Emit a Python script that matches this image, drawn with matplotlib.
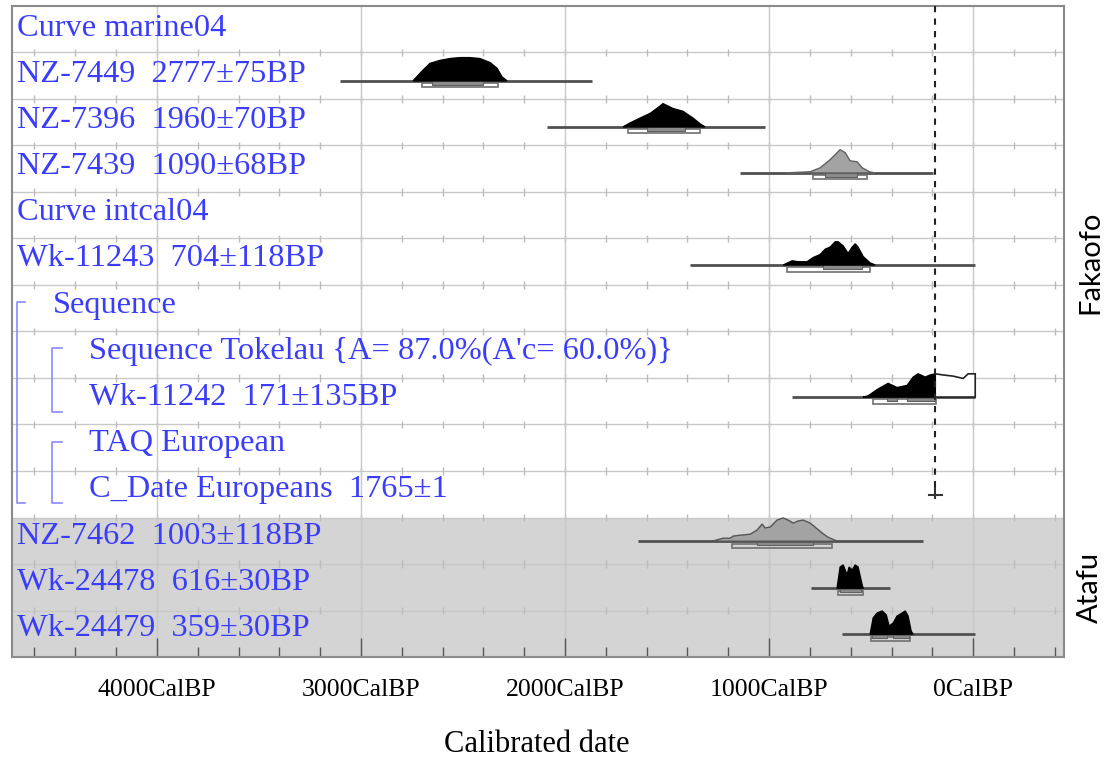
import numpy as np
import matplotlib.pyplot as plt
from matplotlib.patches import Rectangle

plt.rcParams['font.family'] = ['Liberation Serif', 'DejaVu Serif']

# row labels, top to bottom, and their indent level
row_labels = ['Curve marine04', 'NZ-7449  2777±75BP', 'NZ-7396  1960±70BP',
              'NZ-7439  1090±68BP', 'Curve intcal04', 'Wk-11243  704±118BP',
              'Sequence', "Sequence Tokelau {A= 87.0%(A'c= 60.0%)}",
              'Wk-11242  171±135BP', 'TAQ European', 'C_Date Europeans  1765±1',
              'NZ-7462  1003±118BP', 'Wk-24478  616±30BP', 'Wk-24479  359±30BP']
row_indent = [0, 0, 0, 0, 0, 0, 1, 2, 2, 2, 2, 0, 0, 0]

x_ticks = [4000, 3000, 2000, 1000, 0]
x_ticklabels = ['4000CalBP', '3000CalBP', '2000CalBP', '1000CalBP', '0CalBP']

# distributions (cal BP, relative probability), plotted range, 95% / 68% ranges
nz7449_bp = [2745, 2696, 2662, 2613, 2564, 2515, 2466, 2417, 2368, 2333, 2309, 2284]
nz7449_p = [0, .46, .75, .88, .96, 1, 1, .96, .79, .54, .17, 0]
nz7449_line = [3103, 1868]
nz7449_r95 = [(2701, 2328)]
nz7449_r68 = [(2652, 2402)]

nz7396_bp = [1716, 1681, 1632, 1583, 1544, 1520, 1471, 1422, 1373, 1338, 1314]
nz7396_p = [0, .17, .38, .58, .83, 1, .79, .67, .38, .13, 0]
nz7396_line = [2088, 1020]
nz7396_r95 = [(1691, 1338)]
nz7396_r68 = [(1598, 1412)]

nz7439_bp = [922, 799, 750, 701, 652, 627, 603, 569, 544, 505, 480]
nz7439_p = [0, .05, .22, .57, 1, .87, .52, .48, .22, .04, 0]
nz7439_line = [1142, 196]
nz7439_r95 = [(784, 520)]
nz7439_r68 = [(725, 569)]

wk11243_bp = [931, 887, 858, 814, 784, 750, 725, 701, 676, 662, 637, 613, 593, 578, 564, 539, 505, 480]
wk11243_p = [0, .18, .14, .14, .32, .45, .68, .77, 1, 1, .82, .5, .77, .91, .77, .36, .09, 0]
wk11243_line = [1387, -10]
wk11243_r95 = [(912, 505)]
wk11243_r68 = [(735, 544)]

wk11242_bp = [540, 515, 471, 417, 373, 324, 294, 270, 235, 211, 186, 186]
wk11242_p = [0, .05, .32, .59, .41, .5, .86, 1, .86, .95, 1, 0]
wk11242_prior_bp = [186, 186, 170, 147, 98, 49, 25, 0, -10, -10]
wk11242_prior_p = [0, 1, .98, .95, .9, .8, 1, 1, 1, 0]
wk11242_line = [887, -10]
wk11242_r95 = [(490, 181)]
wk11242_r68 = [(422, 373), (324, 186)]

taq_date = 185

nz7462_bp = [1279, 1225, 1191, 1176, 1142, 1093, 1059, 1034, 1020, 995, 961, 931,
             907, 882, 858, 833, 799, 775, 740, 711, 676, 667]
nz7462_p = [0, .13, .13, .22, .26, .3, .48, .74, .57, .61, .91, 1,
            .91, .78, .87, .91, .78, .61, .35, .17, .04, 0]
nz7462_line = [1642, 245]
nz7462_r95 = [(1181, 691)]
nz7462_r68 = [(1059, 784)]

wk24478_bp = [667, 652, 637, 618, 608, 593, 578, 564, 544, 539]
wk24478_p = [0, .91, 1, .57, .91, .78, 1, .91, .13, 0]
wk24478_line = [794, 407]
wk24478_r95 = [(662, 539)]
wk24478_r68 = [(652, 549)]

wk24479_bp = [505, 490, 471, 446, 426, 412, 392, 373, 348, 333, 319, 304, 294]
wk24479_p = [0, .7, .91, 1, .83, .35, .48, .78, .91, 1, .78, .13, 0]
wk24479_line = [642, -10]
wk24479_r95 = [(500, 309)]
wk24479_r68 = [(495, 422), (392, 314)]

# baseline position inside each row (row units, from the row top)
base = {1: 1.61, 2: 2.60, 3: 3.59, 5: 5.57, 8: 8.41, 10: 10.52, 11: 11.51, 12: 12.52, 13: 13.51}

blue = '#3a3cff'

fig = plt.figure(figsize=(11.05, 7.6), dpi=100)
ax = fig.add_axes([12/1105, 103/760, 1052/1105, 651/760])
ax.set_xlim(4710, -445)
ax.set_ylim(14, 0)

# Atafu band
ax.axhspan(11, 14, color='#d4d4d4', zorder=0, lw=0)

# grid: row lines, 1000-yr lines, small crosses every 200 yr
minor = np.arange(-400, 4701, 200)
for i in range(1, 14):
    ax.axhline(i, color='#c8c8c8', lw=1, zorder=1)
    ax.vlines(minor, i - 0.08, i + 0.08, color='#bcbcbc', lw=1, zorder=1)
for v in x_ticks:
    ax.axvline(v, color='#c8c8c8', lw=1, zorder=1)


def draw_dist(row, bp, p, line, r95, r68, face='black', edge='black'):
    b = base[row]
    y = b - np.array(p) * 0.5
    ax.plot(line, [b, b], color='#505050', lw=2, zorder=3, solid_capstyle='butt')
    ax.fill(bp, y, facecolor=face, edgecolor=edge, lw=1, zorder=4)
    for lo, hi in r95:
        ax.add_patch(Rectangle((hi, b + 0.05), lo - hi, 0.09, fill=False,
                               ec='#707070', lw=1.2, zorder=3))
    for lo, hi in r68:
        ax.add_patch(Rectangle((hi, b + 0.01), lo - hi, 0.07, fc='#8c8c8c',
                               ec='#606060', lw=0.8, zorder=3))


draw_dist(1, nz7449_bp, nz7449_p, nz7449_line, nz7449_r95, nz7449_r68)
draw_dist(2, nz7396_bp, nz7396_p, nz7396_line, nz7396_r95, nz7396_r68)
draw_dist(3, nz7439_bp, nz7439_p, nz7439_line, nz7439_r95, nz7439_r68, '#a3a3a3', '#606060')
draw_dist(5, wk11243_bp, wk11243_p, wk11243_line, wk11243_r95, wk11243_r68)
ax.fill(wk11242_prior_bp, base[8] - np.array(wk11242_prior_p) * 0.5,
        facecolor='white', edgecolor='#222222', lw=1.2, zorder=4)
draw_dist(8, wk11242_bp, wk11242_p, wk11242_line, wk11242_r95, wk11242_r68)
draw_dist(11, nz7462_bp, nz7462_p, nz7462_line, nz7462_r95, nz7462_r68, '#a3a3a3', '#555555')
draw_dist(12, wk24478_bp, wk24478_p, wk24478_line, wk24478_r95, wk24478_r68)
draw_dist(13, wk24479_bp, wk24479_p, wk24479_line, wk24479_r95, wk24479_r68)

# TAQ European: dashed line down to the C_Date
ax.plot([taq_date, taq_date], [0, base[10]], color='#222222', lw=1.5,
        ls=(0, (3, 3)), zorder=5)
ax.plot([taq_date + 30, taq_date - 30], [base[10], base[10]], color='#333333', lw=1.5, zorder=5)
ax.plot([taq_date, taq_date], [base[10] - 0.15, base[10] + 0.06], color='#333333', lw=1.5, zorder=5)

# row labels (slight upward drift down the list, as in the original)
trans = ax.get_yaxis_transform()
indent_x = [0.0048, 0.039, 0.0732]
for i, (lab, ind) in enumerate(zip(row_labels, row_indent)):
    ax.text(indent_x[ind], i + 0.40 - 0.007 * i, lab, transform=trans, color=blue,
            fontsize=23.3, ha='left', va='center_baseline', zorder=6)

# sequence brackets
bcol = '#8a8aff'
for x0, x1, y0, y1 in [(0.0048, 0.0124, 6.37, 10.69),
                       (0.038, 0.0475, 7.35, 8.73),
                       (0.038, 0.0475, 9.38, 10.69)]:
    ax.plot([x1, x0, x0, x1], [y0, y0, y1, y1], transform=trans, color=bcol, lw=1.2, zorder=6)

# axes
ax.set_yticks([])
ax.set_xticks(x_ticks)
ax.set_xticklabels(x_ticklabels)
ax.set_xticks(minor, minor=True)
ax.tick_params(axis='x', which='major', direction='in', length=14, width=1,
               color='#555555', pad=16, labelsize=18.5)
ax.tick_params(axis='x', which='minor', direction='in', length=7, width=1, color='#555555')
for s in ax.spines.values():
    s.set_color('#8a8a8a')
    s.set_linewidth(1.5)

fig.text(537/1105, 1 - 745/760, 'Calibrated date', ha='center', va='center', fontsize=22)
fig.text(1090/1105, 1 - 262/760, 'Fakaofo', rotation=90, ha='center', va='center',
         fontsize=21, family='Lato')
fig.text(1090/1105, 1 - 587/760, 'Atafu', rotation=90, ha='center', va='center',
         fontsize=21, family='Lato')

fig.savefig('out.png', dpi=100)
